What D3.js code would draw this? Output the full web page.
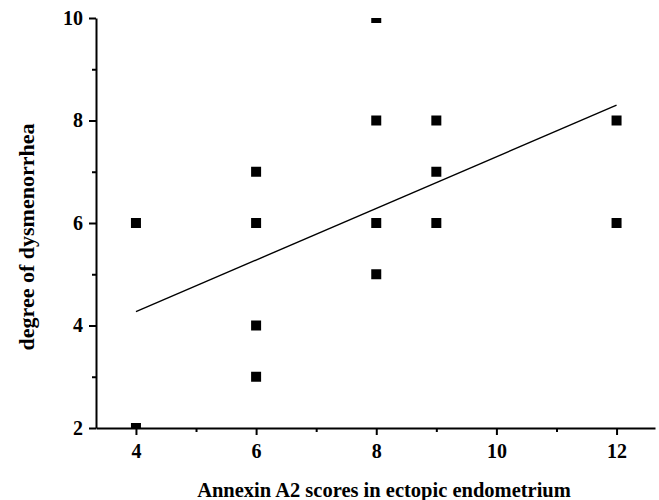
<!DOCTYPE html>
<html>
<head>
<meta charset="utf-8">
<script src="https://cdn.jsdelivr.net/npm/d3@7"></script>
<style>
  body { margin: 0; background: #fff; }
  text { font-family: "Liberation Serif", "Times New Roman", serif; font-weight: bold; }
</style>
</head>
<body>
<script>
// data
const xScores = [4, 4, 6, 6, 6, 6, 8, 8, 8, 8, 9, 9, 9, 12, 12];
const yDegree = [6, 2, 7, 6, 4, 3, 10, 8, 6, 5, 8, 7, 6, 8, 6];
const fitX = [4, 12];
const fitY = [4.27, 8.3];
const xTicks = [4, 6, 8, 10, 12];
const xMinor = [5, 7, 9, 11];
const yTicks = [2, 4, 6, 8, 10];
const yMinor = [3, 5, 7, 9];

const W = 659, H = 500;
const plotL = 96, plotR = 655, plotT = 18, plotB = 428;

const svg = d3.select('body').append('svg')
  .attr('width', W)
  .attr('height', H);

const x = d3.scaleLinear().domain([3.335, 12.64]).range([plotL, plotR]);
const y = d3.scaleLinear().domain([2, 10]).range([plotB, plotT]);

svg.append('defs').append('clipPath').attr('id', 'plot')
  .append('rect')
  .attr('x', plotL).attr('y', plotT)
  .attr('width', plotR - plotL).attr('height', plotB - plotT);

// points
const pts = xScores.map((v, i) => ({ x: v, y: yDegree[i] }));
const s = 10;
svg.append('g').attr('clip-path', 'url(#plot)')
  .selectAll('rect')
  .data(pts)
  .enter().append('rect')
  .attr('x', d => x(d.x) - s / 2)
  .attr('y', d => y(d.y) - s / 2)
  .attr('width', s)
  .attr('height', s)
  .attr('fill', '#000');

// fit line
const line = d3.line().x(d => x(d[0])).y(d => y(d[1]));
svg.append('path')
  .datum(fitX.map((v, i) => [v, fitY[i]]))
  .attr('d', line)
  .attr('fill', 'none')
  .attr('stroke', '#000')
  .attr('stroke-width', 1.4);

// x axis
const gx = svg.append('g').attr('transform', `translate(0,${plotB})`);
gx.call(d3.axisBottom(x).tickValues(xTicks).tickSize(7).tickSizeOuter(0).tickPadding(9));
gx.append('g').call(d3.axisBottom(x).tickValues(xMinor).tickSize(4).tickFormat(''))
  .select('.domain').remove();

// y axis
const gy = svg.append('g').attr('transform', `translate(${plotL},0)`);
gy.call(d3.axisLeft(y).tickValues(yTicks).tickSize(7).tickSizeOuter(0).tickPadding(6));
gy.append('g').call(d3.axisLeft(y).tickValues(yMinor).tickSize(4).tickFormat(''))
  .select('.domain').remove();

svg.selectAll('.domain, .tick line').attr('stroke', '#000').attr('stroke-width', 2);
svg.selectAll('.tick text')
  .style('font-family', '"Liberation Serif", serif')
  .style('font-weight', 'bold')
  .style('font-size', '20px')
  .attr('fill', '#000');

// axis titles
svg.append('text')
  .attr('x', 384)
  .attr('y', 497)
  .attr('text-anchor', 'middle')
  .style('font-size', '20.5px')
  .text('Annexin A2 scores in ectopic endometrium');

svg.append('text')
  .attr('transform', 'translate(34,237) rotate(-90)')
  .attr('text-anchor', 'middle')
  .style('font-size', '22px')
  .text('degree of dysmenorrhea');
</script>
</body>
</html>
